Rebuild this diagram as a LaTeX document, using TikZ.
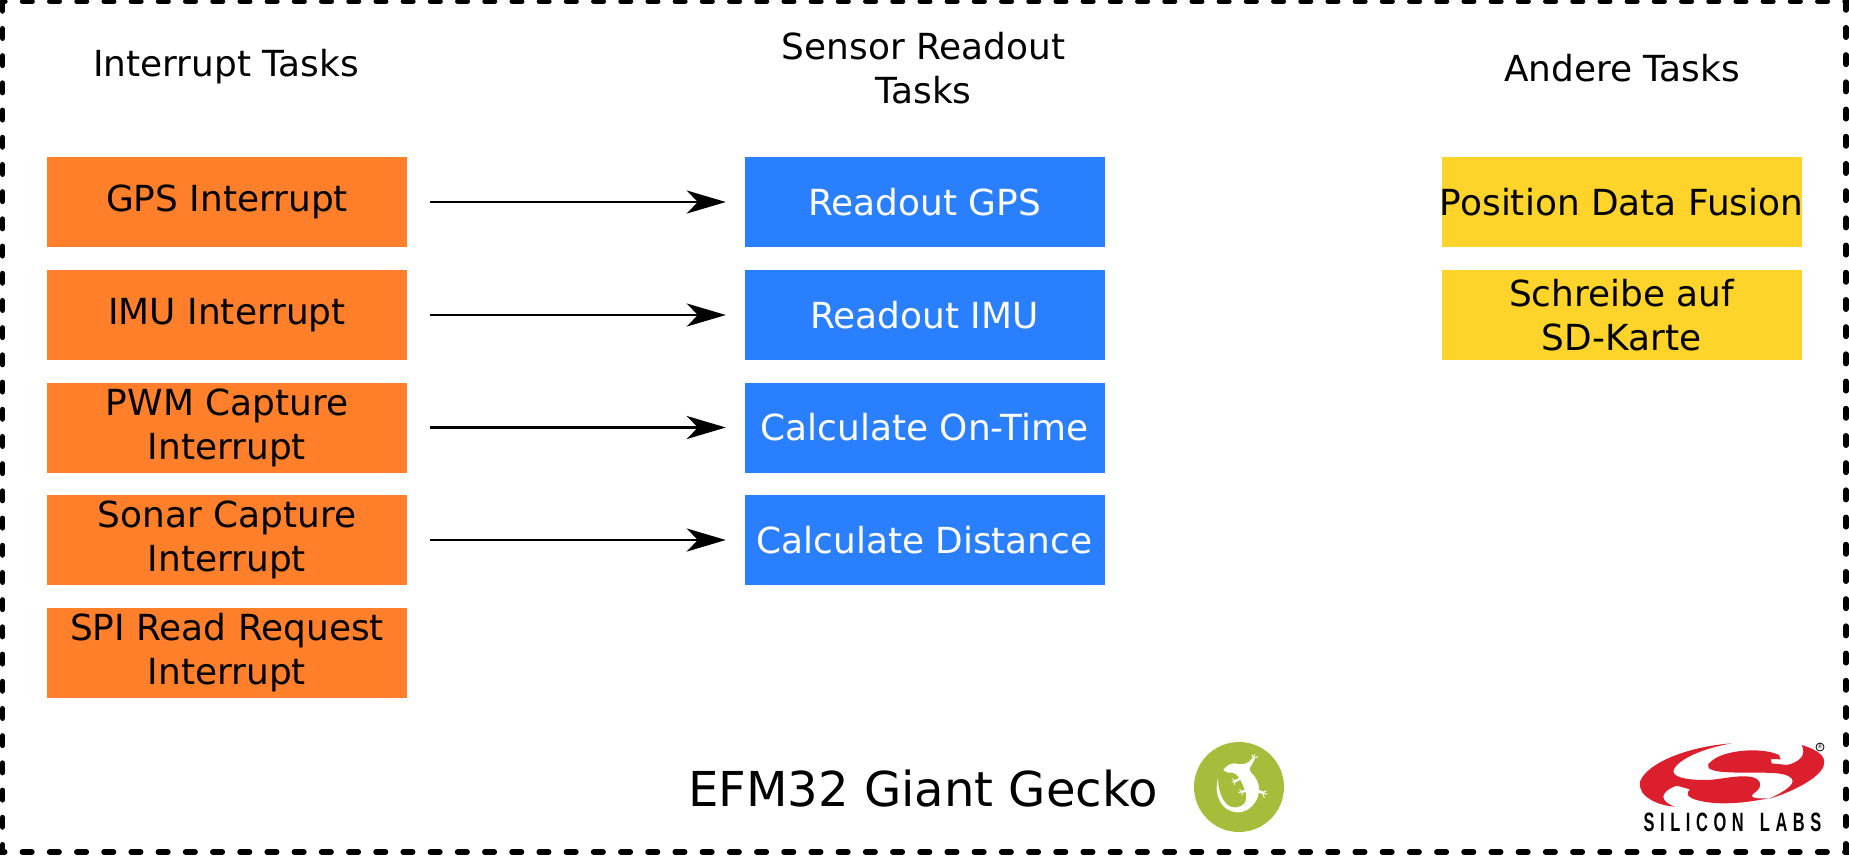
\documentclass[tikz,border=0pt]{standalone}
\usepackage{fontspec}
\setmainfont{DejaVu Sans}
\newfontfamily\logofont{Liberation Sans}
\usetikzlibrary{arrows.meta}
\definecolor{orangebox}{HTML}{FF7F2A}
\definecolor{bluebox}{HTML}{2A7FFF}
\definecolor{yellowbox}{HTML}{FFD42A}
\definecolor{geckogreen}{HTML}{A5BD3A}
\definecolor{silabsred}{HTML}{DC1F2D}
\tikzset{
  task/.style={minimum width=360pt,minimum height=90pt,inner ysep=0pt,inner xsep=-6pt,align=center,
     font=\fontsize{35.9}{44}\selectfont},
  inttask/.style={task,fill=orangebox,text=black},
  readtask/.style={task,fill=bluebox,text=white},
  othertask/.style={task,fill=yellowbox,text=black},
  header/.style={inner sep=0pt,align=center,font=\fontsize{35.9}{44}\selectfont},
  link/.style={line width=2.7pt,-{Stealth[length=39pt,width=23pt,inset=11pt]},
     shorten <=23pt,shorten >=18.5pt},
  frameline/.style={line width=5.5pt,line cap=round,dash pattern=on 9.5pt off 17.7pt},
}
\begin{document}
\begin{tikzpicture}[x=1pt,y=-1pt]
\useasboundingbox (0,0) rectangle (1849,855);
\draw[frameline] (2.5,1.5) rectangle (1846,852);
\node[header] (h1) at (226,67) {Interrupt Tasks};
\node[header] (h2) at (923.5,68) {Sensor Readout\\Tasks};
\node[header] (h3) at (1622,68) {Andere Tasks};
\node[inttask] (i1) at (227,202) {GPS Interrupt};
\node[inttask] (i2) at (227,315) {IMU Interrupt};
\node[inttask] (i3) at (227,427.5) {PWM Capture\\Interrupt};
\node[inttask] (i4) at (227,540) {Sonar Capture\\Interrupt};
\node[inttask] (i5) at (227,652.5) {SPI Read Request\\Interrupt};
\node[readtask] (r1) at (924.5,202) {Readout GPS};
\node[readtask] (r2) at (924.5,315) {Readout IMU};
\node[readtask] (r3) at (924.5,427.5) {Calculate On-Time};
\node[readtask] (r4) at (924.5,540) {Calculate Distance};
\node[othertask] (o1) at (1621.5,202) {Position Data Fusion};
\node[othertask] (o2) at (1621.5,315) {Schreibe auf\\SD-Karte};
\foreach \k in {1,2,3,4} \draw[link] (i\k.east) -- (r\k.west);
\node[inner sep=0pt,font=\fontsize{48.1}{56}\selectfont] (title) at (923,789) {EFM32 Giant Gecko};
% Gecko logo
\node[circle,fill=geckogreen,minimum size=90pt,inner sep=0pt] (gecko) at (1239,787) {};
\begin{scope}[shift={(1190,740)},x=0.3333pt,y=-0.3333pt,white]
\fill (100,90) .. controls (108,78) and (120,70) .. (135,70)
  .. controls (150,74) and (165,74) .. (176,66) -- (188,53) -- (194,58) -- (186,74)
  .. controls (178,82) and (176,88) .. (184,98)
  .. controls (198,112) and (208,130) .. (207,148)
  .. controls (207,175) and (190,207) .. (155,216)
  .. controls (130,221) and (100,208) .. (88,180)
  .. controls (78,160) and (78,138) .. (84,115)
  .. controls (84,145) and (92,175) .. (112,195)
  .. controls (125,206) and (152,206) .. (165,188)
  .. controls (172,172) and (168,155) .. (160,138)
  .. controls (152,120) and (145,102) .. (128,98)
  .. controls (115,99) and (105,97) .. (100,90) -- cycle;
\draw[line width=2.2pt] (155,113) -- (135,124);
\draw[line width=2.2pt] (175,148) -- (158,155);
\draw[line width=2.8pt] (195,150) -- (218,158);
\draw[line width=0.9pt] (135,124) -- (127,116) (135,124) -- (125,127) (135,124) -- (133,134)
  (158,155) -- (147,149) (158,155) -- (146,158) (158,155) -- (155,166)
  (218,158) -- (229,152) (218,158) -- (231,163) (218,158) -- (223,174)
  (190,53) -- (185,44) (190,53) -- (195,43) (192,55) -- (203,50);
\end{scope}
% Silicon Labs logo
\begin{scope}[shift={(1630,735)},x=0.3333pt,y=-0.3333pt]
\fill[silabsred] (305,25) .. controls (170,35) and (50,85) .. (30,140)
  .. controls (22,185) and (85,212) .. (135,215)
  .. controls (90,200) and (85,172) .. (140,152)
  -- (180,163) .. controls (165,178) and (175,188) .. (200,195)
  .. controls (260,212) and (340,205) .. (415,190)
  .. controls (375,192) and (350,188) .. (378,170)
  .. controls (398,155) and (395,130) .. (360,125)
  .. controls (310,120) and (270,135) .. (225,135)
  .. controls (165,135) and (120,125) .. (132,102)
  .. controls (150,70) and (220,40) .. (305,25) -- cycle;
\fill[silabsred] (515,30) .. controls (565,45) and (592,65) .. (580,95)
  .. controls (565,130) and (490,170) .. (415,192)
  .. controls (475,165) and (505,140) .. (478,125)
  .. controls (450,105) and (350,118) .. (270,110)
  .. controls (235,105) and (222,95) .. (245,78)
  .. controls (280,45) and (395,35) .. (447,60)
  -- (452,73) -- (422,72) -- (425,85) -- (472,90)
  .. controls (510,80) and (530,60) .. (515,30) -- cycle;
\node[inner sep=0pt,font=\logofont\fontsize{5.5}{6}\selectfont] (reg) at (570,36) {®};
\draw[line width=0.8pt] (reg) circle (12);
\end{scope}
\node[inner sep=0pt,xscale=0.62,font=\logofont\bfseries\fontsize{26.5}{26}\addfontfeature{LetterSpace=34}\selectfont,text=black] (silabs) at (1732.5,822.5) {SILICON\hspace{26pt}LABS};
\end{tikzpicture}
\end{document}
